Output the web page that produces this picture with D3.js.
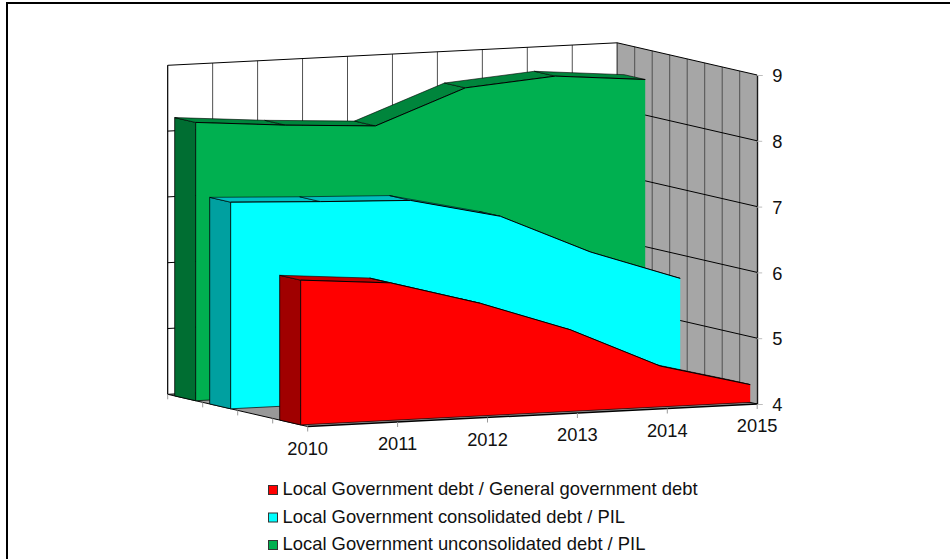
<!DOCTYPE html>
<html><head><meta charset="utf-8">
<script src="https://cdn.jsdelivr.net/npm/d3@7"></script>
<style>html,body{margin:0;padding:0;background:#fff}svg{display:block}text{font-family:"Liberation Sans",Arial,sans-serif;fill:#111}</style>
</head><body><div id="c"></div>
<script>
const years=[2010,2011,2012,2013,2014,2015];
const valueTicks=[4,5,6,7,8,9];
const redValues=[6.20,6.09,5.71,5.24,4.62,4.27];
const cyanValues=[7.14,7.08,7.03,6.72,6.11,5.64];
const greenValues=[8.23,8.12,8.04,8.55,8.66,8.54];
const seriesNames=["Local Government debt / General government debt","Local Government consolidated debt / PIL","Local Government unconsolidated debt / PIL"];
const slots=[0,2,3];
const faceColors=["#FF0000","#00FFFF","#00B050"];
const sideColors=["#A00000","#00A0A0","#006E32"];
const topColors=["#BF0000","#00BFBF","#00853C"];
const seriesValues=[redValues,cyanValues,greenValues];

const W=950,H=559;
const svg=d3.select("#c").append("svg").attr("width",W).attr("height",H);
const xs=d3.scaleLinear().domain([0,5]).range([307.7,757.2]);
const xdrop=d3.scaleLinear().domain([0,5]).range([426.5,404]);
const hs=d3.scaleLinear().domain([4,9]).range([0,329]);
const ds=d3.scaleLinear().domain([0,4]).range([0,140]);
const dsY=d3.scaleLinear().domain([0,4]).range([0,32.2]);
const P=(i,s,v)=>[xs(i)-ds(s),xdrop(i)-dsY(s)-hs(v)];
const poly=pts=>"M"+pts.map(p=>p.map(n=>n.toFixed(2)).join(",")).join("L")+"Z";
const line=pts=>"M"+pts.map(p=>p.map(n=>n.toFixed(2)).join(",")).join("L");
const g=svg.append("g");

// frame: only the top and left edges fall inside the picture
svg.append("path").attr("d","M7,"+H+"L7,3L"+W+",3").attr("fill","none").attr("stroke","#000").attr("stroke-width",2);

// walls and floor
g.append("path").attr("d",poly([P(0,4,4),P(5,4,4),P(5,4,9),P(0,4,9)])).attr("fill","#fff").attr("stroke","none");
g.append("path").attr("d",poly([P(5,4,4),P(5,0,4),P(5,0,9),P(5,4,9)])).attr("fill","#A6A6A6");
g.append("path").attr("d",poly([P(0,0,4),P(5,0,4),P(5,4,4),P(0,4,4)])).attr("fill","#999999");
const half=d3.range(0,5.01,0.5), depthSteps=d3.range(0,4.01,0.5);
half.forEach(i=>g.append("path").attr("d",line([P(i,4,4),P(i,4,9)])).attr("stroke","#505050").attr("fill","none"));
depthSteps.forEach(s=>g.append("path").attr("d",line([P(5,s,4),P(5,s,9)])).attr("stroke","#505050").attr("fill","none"));
valueTicks.forEach(v=>{
  g.append("path").attr("d",line([P(0,4,v),P(5,4,v)])).attr("stroke","#000").attr("fill","none");
  g.append("path").attr("d",line([P(5,4,v),P(5,0,v)])).attr("stroke","#000").attr("fill","none");
});
g.append("path").attr("d",line([P(0,0,4),P(5,0,4)])).attr("stroke","#000").attr("stroke-width",1.5).attr("fill","none");
g.append("path").attr("d",line([P(0,0,4),P(0,4,4),P(0,4,9)])).attr("stroke","#000").attr("fill","none");

// series, back to front
[2,1,0].forEach(k=>{
  const vals=seriesValues[k], f=slots[k]+0.2, b=slots[k]+0.8;
  const front=vals.map((v,i)=>P(i,f,v)), back=vals.map((v,i)=>P(i,b,v));
  g.append("path").attr("d",poly([front[0],back[0],P(0,b,4),P(0,f,4)])).attr("fill",sideColors[k]).attr("stroke","#000").attr("stroke-width",0.8);
  d3.range(5).forEach(i=>g.append("path").attr("d",poly([front[i],front[i+1],back[i+1],back[i]])).attr("fill",topColors[k]).attr("stroke","#000").attr("stroke-width",0.6));
  const base=[P(5,f,4),P(0,f,4)];
  g.append("path").attr("d",poly(front.concat(base))).attr("fill",faceColors[k]).attr("stroke","none");
  g.append("path").attr("d",line(front)).attr("stroke","#000").attr("fill","none");
  g.append("path").attr("d",line([front[0],base[1],base[0]])).attr("stroke","#000").attr("stroke-width",0.7).attr("fill","none");
});

// value axis
const yAxisScale=d3.scaleLinear().domain([4,9]).range([404,75]);
const ax=svg.append("g").attr("transform","translate(757.2,0)").call(d3.axisRight(yAxisScale).tickValues(valueTicks).tickSize(5).tickPadding(10).tickFormat(d3.format("d")));
ax.select(".domain").attr("stroke","#000");
ax.selectAll(".tick line").attr("stroke","#BDBDBD");
ax.selectAll("text").attr("font-size",18.3).attr("dy","0.37em").attr("font-family",'"Liberation Sans",Arial,sans-serif');

// year axis
years.forEach((y,i)=>{
  const p=P(i,0,4);
  svg.append("line").attr("x1",p[0]).attr("x2",p[0]).attr("y1",p[1]).attr("y2",p[1]+5).attr("stroke","#9a9a9a");
  svg.append("text").attr("x",p[0]).attr("y",p[1]+28).attr("text-anchor","middle").attr("font-size",18.3).text(y);
});
d3.range(1,5).forEach(s=>{
  const p=P(0,s,4);
  svg.append("line").attr("x1",p[0]).attr("x2",p[0]).attr("y1",p[1]).attr("y2",p[1]+5).attr("stroke","#9a9a9a");
});

// legend
const ly=d3.scaleLinear().domain([0,2]).range([495,550]);
seriesNames.forEach((n,k)=>{
  svg.append("rect").attr("x",268.5).attr("y",ly(k)-9.5).attr("width",9).attr("height",9).attr("fill",faceColors[k]).attr("stroke","#333");
  svg.append("text").attr("x",282.5).attr("y",ly(k)).attr("font-size",18.4).text(n);
});
</script></body></html>
